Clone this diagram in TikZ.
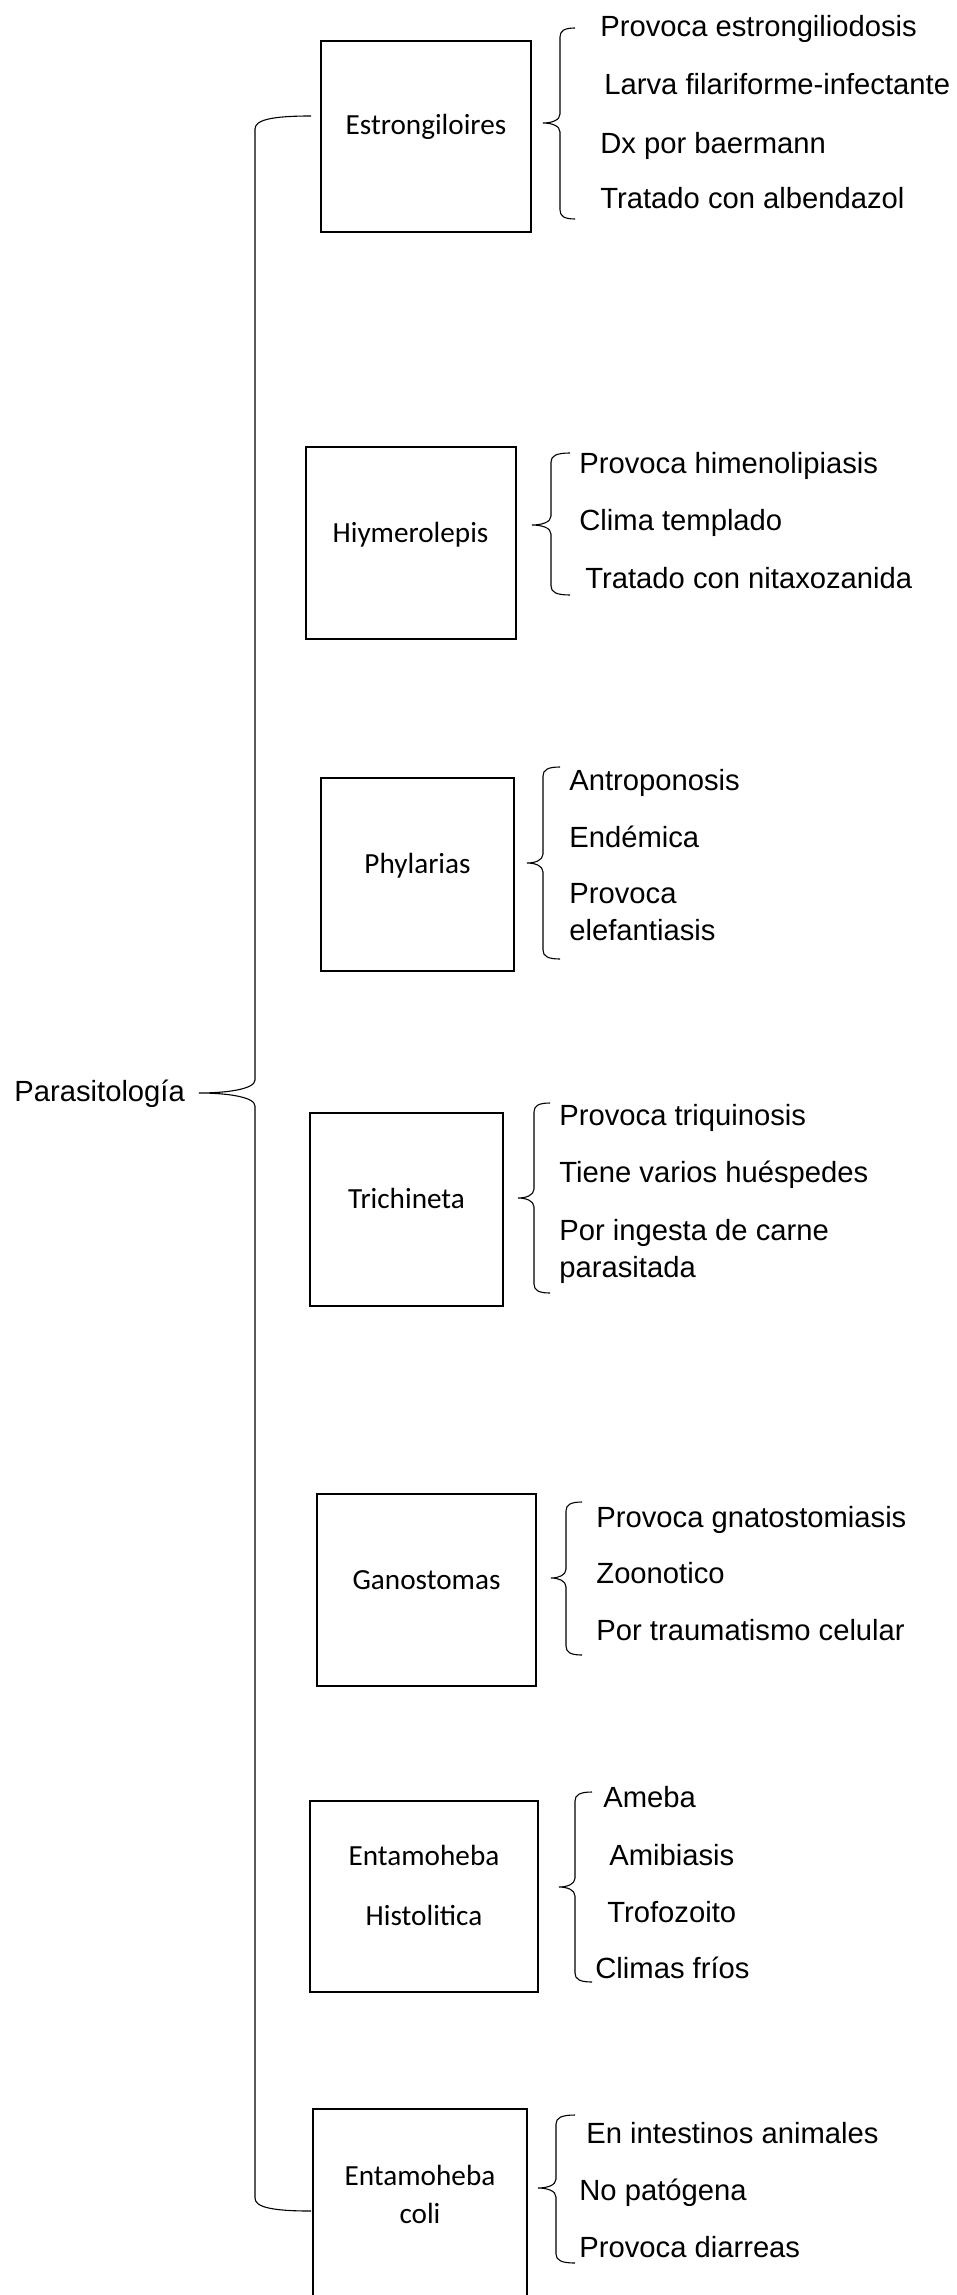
\documentclass[tikz,border=0pt]{standalone}
\usepackage{fontspec}
\newfontfamily\itemfont{Liberation Sans}
\newfontfamily\cajafont{Carlito}
\usepackage{tikz}
\tikzset{caja/.style={draw, line width=1pt, inner sep=0pt},
         nombre/.style={font={\cajafont\fontsize{14.6}{17.5}\selectfont}, anchor=base, align=center, inner sep=0pt},
         rasgo/.style={font={\itemfont\fontsize{14.6}{17.5}\selectfont}, anchor=base west, align=left, inner sep=0pt},
         llavelinea/.style={line width=0.55pt}}
% #1 arm x, #2 line x, #3 tip x, #4 top y, #5 tip y, #6 bottom y, #7 curl
\newcommand{\llave}[7]{%
  \draw[llavelinea] (#1,#4) .. controls (#2+0.3*#1-0.3*#2,#4) and (#2,#4+0.3*#7) .. (#2,#4+#7)
    -- (#2,#5-#7) .. controls (#2,#5-0.3*#7) and (0.5*#2+0.5*#3,#5) .. (#3,#5)
    .. controls (0.5*#2+0.5*#3,#5) and (#2,#5+0.3*#7) .. (#2,#5+#7)
    -- (#2,#6-#7) .. controls (#2,#6-0.3*#7) and (#2+0.3*#1-0.3*#2,#6) .. (#1,#6);}

\begin{document}
\begin{tikzpicture}[x=0.5pt, y=-0.5pt]
\useasboundingbox (0,0) rectangle (957,2295);
\clip (0,0) rectangle (957,2295);

\node[rasgo] (raiz) at (14,1101) {Parasitología};
\llave{311}{255}{199}{116}{1093}{2211}{13}

% Estrongiloires
\node[caja, minimum width=105pt, minimum height=95.5pt] (estr) at (426,136.5) {};
\node[nombre] (estr-t) at (426,135) {Estrongiloires};
\llave{575}{560}{543}{28}{123}{219}{9}
\node[rasgo] (estr-1) at (600,37) {Provoca estrongiliodosis};
\node[rasgo] (estr-2) at (604,95) {Larva filariforme-infectante};
\node[rasgo] (estr-3) at (600,154) {Dx por baermann};
\node[rasgo] (estr-4) at (600,209) {Tratado con albendazol};

% Hiymerolepis
\node[caja, minimum width=105pt, minimum height=96pt] (hiym) at (411,543) {};
\node[nombre] (hiym-t) at (410.5,542) {Hiymerolepis};
\llave{570}{551}{532}{453}{525}{595}{9}
\node[rasgo] (hiym-1) at (579,473) {Provoca himenolipiasis};
\node[rasgo] (hiym-2) at (579,530) {Clima templado};
\node[rasgo] (hiym-3) at (585,588) {Tratado con nitaxozanida};

% Phylarias
\node[caja, minimum width=96.5pt, minimum height=96.5pt] (phyl) at (417.5,874.5) {};
\node[nombre] (phyl-t) at (417.5,873) {Phylarias};
\llave{560}{543}{527}{767}{863}{959}{9}
\node[rasgo] (phyl-1) at (569,790) {Antroponosis};
\node[rasgo] (phyl-2) at (569,847) {Endémica};
\node[rasgo] (phyl-3) at (569,940) {Provoca\\[1pt]elefantiasis};

% Trichineta
\node[caja, minimum width=96.5pt, minimum height=96.5pt] (tric) at (406.5,1209.5) {};
\node[nombre] (tric-t) at (406.5,1208) {Trichineta};
\llave{550}{534}{518}{1103}{1198}{1293}{9}
\node[rasgo] (tric-1) at (559,1125) {Provoca triquinosis};
\node[rasgo] (tric-2) at (559,1182) {Tiene varios huéspedes};
\node[rasgo] (tric-3) at (559,1277) {Por ingesta de carne\\[1pt]parasitada};

% Ganostomas
\node[caja, minimum width=109.5pt, minimum height=96pt] (gano) at (426.5,1590) {};
\node[nombre] (gano-t) at (426.5,1589) {Ganostomas};
\llave{582}{566}{551}{1502}{1578}{1655}{9}
\node[rasgo] (gano-1) at (596,1527) {Provoca gnatostomiasis};
\node[rasgo] (gano-2) at (596,1583) {Zoonotico};
\node[rasgo] (gano-3) at (596,1640) {Por traumatismo celular};

% Entamoheba Histolitica
\node[caja, minimum width=114pt, minimum height=95.5pt] (hist) at (424,1896.5) {};
\node[nombre] (hist-t) at (424,1925) {Entamoheba\\[12.5pt]Histolitica};
\llave{592}{575}{559}{1792}{1887}{1982}{9}
\node[rasgo] (hist-1) at (603,1807) {Ameba};
\node[rasgo] (hist-2) at (609,1865) {Amibiasis};
\node[rasgo] (hist-3) at (607,1922) {Trofozoito};
\node[rasgo] (hist-4) at (595,1978) {Climas fríos};

% Entamoheba coli
\node[caja, minimum width=107pt, minimum height=95.5pt] (coli) at (420,2204.5) {};
\node[nombre] (coli-t) at (420,2223) {Entamoheba\\[1.5pt]coli};
\llave{575}{556}{538}{2115}{2188}{2263}{9}
\node[rasgo] (coli-1) at (586,2143) {En intestinos animales};
\node[rasgo] (coli-2) at (579,2200) {No patógena};
\node[rasgo] (coli-3) at (579,2257) {Provoca diarreas};
\end{tikzpicture}
\end{document}
